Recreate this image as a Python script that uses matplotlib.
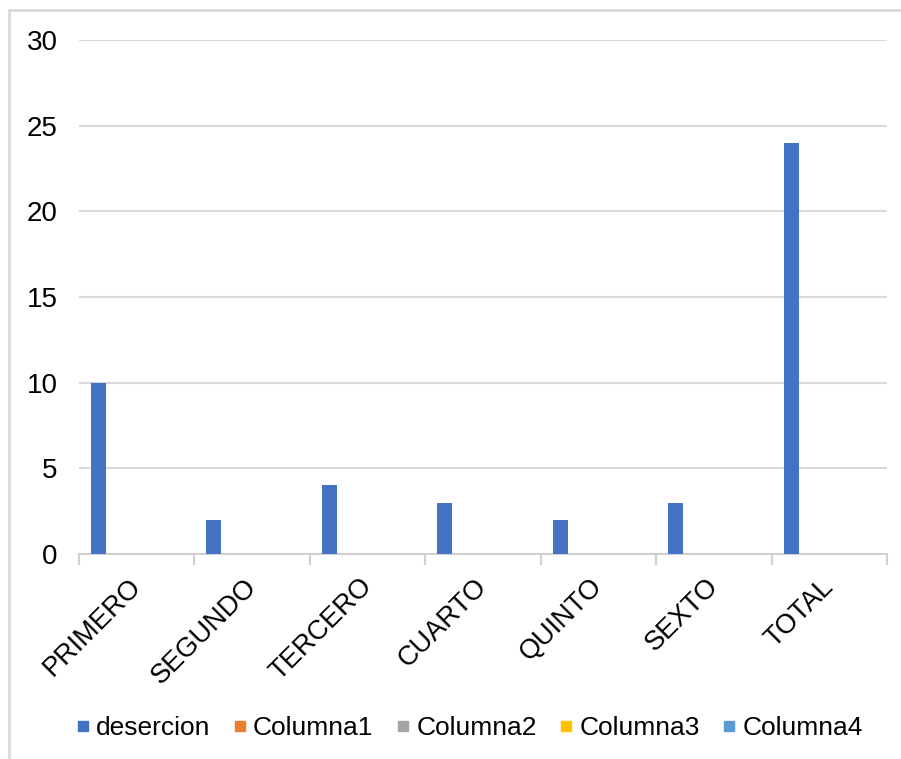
import matplotlib
matplotlib.use("Agg")
import matplotlib.pyplot as plt
from matplotlib.lines import Line2D
from matplotlib.transforms import ScaledTranslation
import numpy as np

plt.rcParams['font.family'] = ['Liberation Sans', 'DejaVu Sans']

categories = ["PRIMERO", "SEGUNDO", "TERCERO", "CUARTO", "QUINTO", "SEXTO", "TOTAL"]
series_names = ["desercion", "Columna1", "Columna2", "Columna3", "Columna4"]
desercion = [10, 2, 4, 3, 2, 3, 24]
columna1 = [0, 0, 0, 0, 0, 0, 0]
columna2 = [0, 0, 0, 0, 0, 0, 0]
columna3 = [0, 0, 0, 0, 0, 0, 0]
columna4 = [0, 0, 0, 0, 0, 0, 0]
colors = ["#4472C4", "#ED7D31", "#A5A5A5", "#FFC000", "#5B9BD5"]
yticks = [0, 5, 10, 15, 20, 25, 30]

fig = plt.figure(figsize=(9.01, 7.59), dpi=100)
ax = fig.add_axes([79/901, 1-554/759, (887-79)/901, (554-40)/759])

x = np.arange(len(categories))
bw = 0.13
start = -0.5 + 0.104
all_series = [desercion, columna1, columna2, columna3, columna4]
for k, (vals, col) in enumerate(zip(all_series, colors)):
    ax.bar(x + start + k*bw, vals, width=bw, align='edge', color=col, zorder=3)

ax.set_xlim(-0.5, len(categories)-0.5)
ax.set_ylim(0, 30)
ax.set_yticks(yticks)
ax.set_yticklabels([str(v) for v in yticks], fontsize=20)
ax.yaxis.grid(True, color="#d9d9d9", linewidth=1.5, zorder=0)
ax.tick_params(axis='y', length=0, pad=15.5)

ax.set_xticks(x)
ax.set_xticklabels(categories, fontsize=19.5, rotation=45, ha='right', va='top',
                   rotation_mode='anchor')
ax.tick_params(axis='x', which='major', length=0, pad=14)
off = ScaledTranslation(-9/100, 0, fig.dpi_scale_trans)
for lbl in ax.get_xticklabels():
    lbl.set_transform(lbl.get_transform() + off)
ax.set_xticks(np.arange(-0.5, len(categories)), minor=True)
ax.tick_params(axis='x', which='minor', length=8, width=1.5, color="#d0d0d0")

for s in ['top', 'right', 'left']:
    ax.spines[s].set_visible(False)
ax.spines['bottom'].set_color("#d0d0d0")
ax.spines['bottom'].set_linewidth(1.5)

handles = [Line2D([0], [0], marker='s', linestyle='none', markersize=6.5,
                  markerfacecolor=c, markeredgecolor=c) for c in colors]
fig.legend(handles, series_names, loc='center', bbox_to_anchor=(467.5/901, 1-728/759),
           ncol=5, frameon=False, fontsize=19, handletextpad=0.1, columnspacing=0.72,
           handlelength=0.8)

fig.add_artist(Line2D([9/901, 9/901], [0, 1-10/759], color="#d9d9d9", linewidth=2,
                      transform=fig.transFigure))
fig.add_artist(Line2D([9/901, 1], [1-10/759, 1-10/759], color="#d9d9d9", linewidth=2,
                      transform=fig.transFigure))

fig.savefig("out.png", dpi=100)
